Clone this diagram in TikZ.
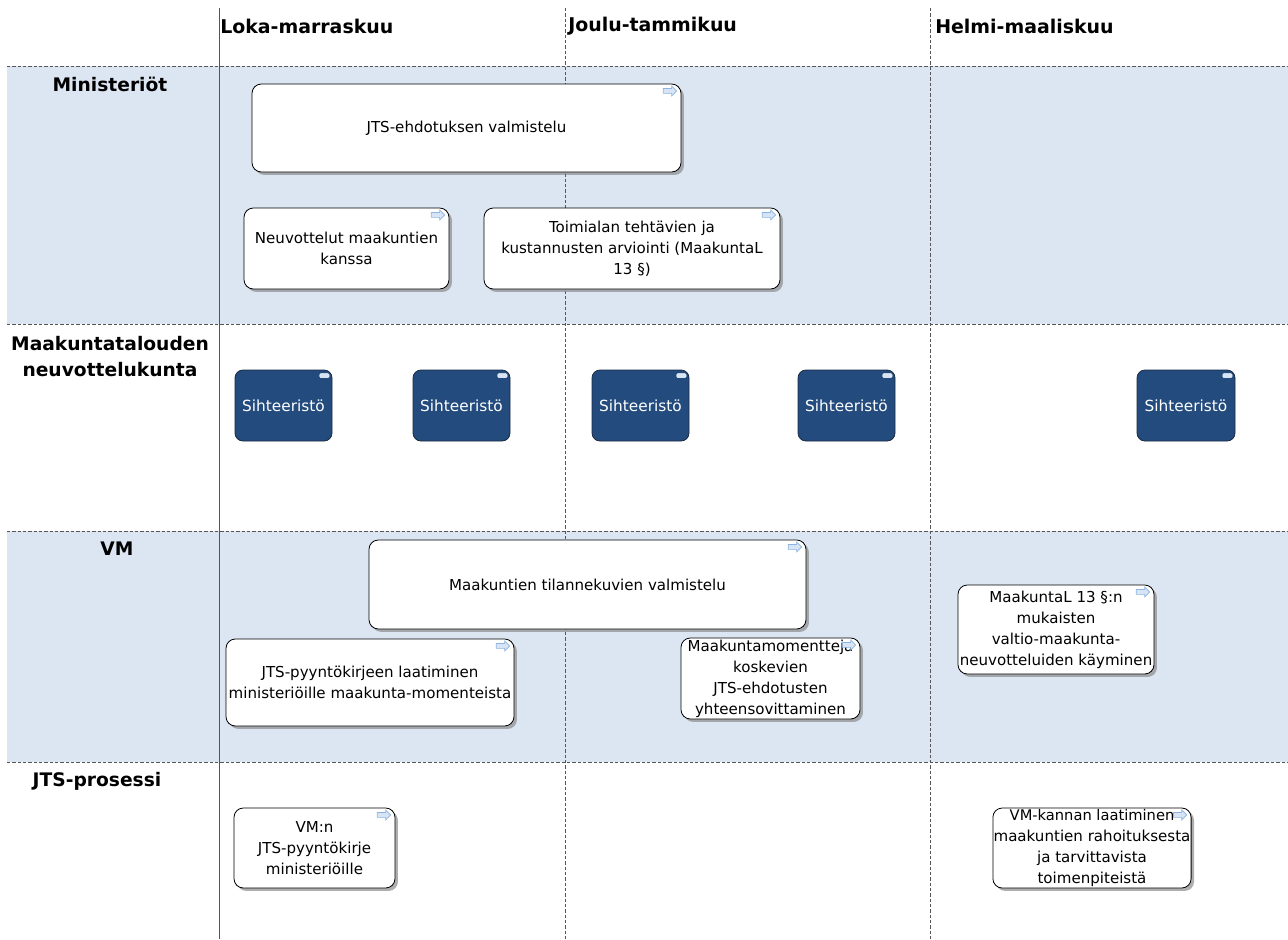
\documentclass[tikz,border=0pt]{standalone}
\usepackage{fontspec}
\setmainfont{DejaVu Sans}
\usetikzlibrary{shadows,shapes.arrows}
\definecolor{band}{HTML}{DCE6F2}
\definecolor{sihfill}{HTML}{234B7E}
\definecolor{sihborder}{HTML}{1A2A40}
\definecolor{gridline}{HTML}{555555}
\definecolor{iconfill}{HTML}{D6E4F5}
\definecolor{icondraw}{HTML}{8DB3E2}
\tikzset{
  task/.style={draw=black, fill=white, rounded corners=7pt, line width=0.6pt,
    align=center, inner sep=0.5pt, font=\fontsize{11.3}{15.8}\selectfont,
    drop shadow={shadow xshift=2.2pt, shadow yshift=-2.2pt, fill=black!45, opacity=0.7}},
  sih/.style={draw=sihborder, fill=sihfill, rounded corners=6pt, line width=0.6pt,
    text=white, align=center, inner sep=1pt, font=\fontsize{11.5}{13}\selectfont},
  icon/.style={single arrow, draw=icondraw, fill=iconfill, line width=0.5pt,
    minimum height=10pt, minimum width=7.5pt, single arrow head extend=1.6pt,
    inner sep=1.3pt},
  sihmark/.style={fill=iconfill, draw=white, line width=0.3pt, rounded corners=0.8pt,
    minimum width=7pt, minimum height=3pt, inner sep=0pt},
  hdr/.style={font=\fontsize{14.2}{16}\selectfont\bfseries, anchor=west, inner sep=0pt},
  rowlab/.style={font=\fontsize{14}{19.5}\selectfont\bfseries, align=center, inner sep=0pt},
  dashline/.style={draw=gridline, line width=0.6pt, dash pattern=on 2.5pt off 1.5pt},
  solidline/.style={draw=gridline, line width=0.6pt}
}
\newcommand\taskbox[6]{%
  \node[task, minimum width={(#4-#2)*0.75pt}, minimum height={(#5-#3)*0.75pt}]
    (#1) at ({(#2+#4)/2},{(#3+#5)/2}) {#6};
  \node[icon] (#1i) at ([xshift=-9.5pt,yshift=-5.5pt]#1.north east) {};}
\newcommand\sihbox[3]{%
  \node[sih, minimum width={(#3-#2)*0.75pt}, minimum height={71*0.75pt}]
    (#1) at ({(#2+#3)/2},405.5) {Sihteeristö};
  \node[sihmark] (#1m) at ([xshift=-6pt,yshift=-4.5pt]#1.north east) {};}
\begin{document}
\begin{tikzpicture}[x=0.75pt,y=-0.75pt]
\useasboundingbox (0,0) rectangle (1288,939);
% bands
\fill[band] (7,66) rectangle (1288,324);
\fill[band] (7,531) rectangle (1288,762);
% grid lines
\coordinate (v1t) at (219,8); \coordinate (v1b) at (219,939);
\coordinate (v2t) at (565,8); \coordinate (v2b) at (565,939);
\coordinate (v3t) at (930,8); \coordinate (v3b) at (930,939);
\draw[solidline] (v1t) -- (v1b);
\draw[dashline] (v2t) -- (v2b);
\draw[dashline] (v3t) -- (v3b);
\foreach \yy/\nm in {66/a,324/b,531/c,762/d}{
  \coordinate (h\nm l) at (7,\yy); \coordinate (h\nm r) at (1288,\yy);
  \draw[dashline] (h\nm l) -- (h\nm r);
}
% headers
\node[hdr] (hd1) at (220,26) {Loka-marraskuu};
\node[hdr] (hd2) at (568,26) {Joulu-tammikuu};
\node[hdr] (hd3) at (935,26) {Helmi-maaliskuu};
% row labels
\node[rowlab] (r1) at (110,84) {Ministeriöt};
\node[rowlab] (r2) at (110,357) {Maakuntatalouden\\neuvottelukunta};
\node[rowlab] (r3) at (117,549) {VM};
\node[rowlab] (r4) at (97,781) {JTS-prosessi};
% Ministeriöt
\taskbox{t1}{252}{84}{681}{172}{JTS-ehdotuksen valmistelu}
\taskbox{t2}{244}{208}{449}{289}{Neuvottelut maakuntien\\kanssa}
\taskbox{t3}{484}{208}{780}{289}{Toimialan tehtävien ja\\kustannusten arviointi (MaakuntaL\\13 §)}
% Sihteeristö
\sihbox{s1}{235}{332}
\sihbox{s2}{413}{510}
\sihbox{s3}{592}{689}
\sihbox{s4}{798}{895}
\sihbox{s5}{1137}{1235}
% VM
\taskbox{t4}{369}{540}{806}{629}{Maakuntien tilannekuvien valmistelu}
\taskbox{t5}{226}{639}{514}{726}{JTS-pyyntökirjeen laatiminen\\ministeriöille maakunta-momenteista}
\taskbox{t6}{681}{638}{860}{719}{Maakuntamomentteja\\koskevien\\JTS-ehdotusten\\yhteensovittaminen}
\taskbox{t7}{958}{585}{1154}{674}{MaakuntaL 13 §:n\\mukaisten\\valtio-maakunta-\\neuvotteluiden käyminen}
% JTS-prosessi
\taskbox{t8}{234}{808}{395}{888}{VM:n\\JTS-pyyntökirje\\ministeriöille}
\taskbox{t9}{994}{808}{1190}{888}{\fontsize{11}{15.8}\selectfont VM-kannan laatiminen\\maakuntien rahoituksesta\\ja tarvittavista\\toimenpiteistä}
\end{tikzpicture}
\end{document}
